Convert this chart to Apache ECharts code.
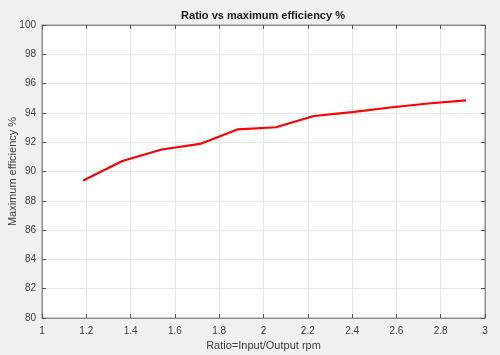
<!DOCTYPE html>
<html><head><meta charset="utf-8">
<script src="https://cdn.jsdelivr.net/npm/echarts@6/dist/echarts.min.js"></script>
<style>html,body{margin:0;padding:0;background:#f0f0f0;}#c{width:500px;height:355px;}</style>
</head><body><div id="c"></div>
<script>
var ratios = [1.186, 1.363, 1.540, 1.713, 1.885, 2.056, 2.228, 2.400, 2.571, 2.743, 2.914];
var efficiency = [89.38, 90.72, 91.50, 91.88, 92.88, 93.02, 93.79, 94.05, 94.37, 94.64, 94.86];
var title = 'Ratio vs maximum efficiency %';
var xName = 'Ratio=Input/Output rpm';
var yName = 'Maximum efficiency %';

var chart = echarts.init(document.getElementById('c'), null, {renderer: 'canvas'});
var font = 'Liberation Sans, Arial, sans-serif';
var axisCol = '#8f8f8f';
var labelCol = '#3c3c3c';
var gridCol = '#e6e6e6';
function baseAxis(extra) {
  return Object.assign({
    type: 'value',
    axisLine: {show: true, onZero: false, lineStyle: {color: axisCol, width: 1}},
    axisTick: {show: true, inside: true, length: 4, lineStyle: {color: '#555'}},
    splitLine: {show: false},
    axisLabel: {show: false}
  }, extra);
}
chart.setOption({
  backgroundColor: '#f0f0f0',
  animation: false,
  title: {text: title, left: 263, top: 10, padding: 0, textAlign: 'center',
    textStyle: {fontFamily: font, fontSize: 11, fontWeight: 'bold', color: '#1a1a1a'}},
  grid: {left: 42, right: 15, top: 25, bottom: 37, containLabel: false, outerBoundsMode: 'none',
    show: true, backgroundColor: '#ffffff', borderColor: axisCol, borderWidth: 1},
  xAxis: [
    baseAxis({position: 'bottom', min: 1, max: 3, interval: 0.2,
      name: xName, nameLocation: 'middle', nameGap: 22, nameMoveOverlap: false,
      nameTextStyle: {fontFamily: font, fontSize: 11, color: labelCol},
      splitLine: {show: true, lineStyle: {color: gridCol, width: 1}},
      axisLabel: {show: true, margin: 8, fontFamily: font, fontSize: 10, color: labelCol}}),
    baseAxis({position: 'top', min: 1, max: 3, interval: 0.2})
  ],
  yAxis: [
    baseAxis({position: 'left', min: 80, max: 100, interval: 2,
      name: yName, nameLocation: 'middle', nameGap: 24, nameMoveOverlap: false,
      nameTextStyle: {fontFamily: font, fontSize: 11, color: labelCol},
      splitLine: {show: true, lineStyle: {color: gridCol, width: 1}},
      axisLabel: {show: true, margin: 6, fontFamily: font, fontSize: 10, color: labelCol}}),
    baseAxis({position: 'right', min: 80, max: 100, interval: 2})
  ],
  series: [{
    type: 'line',
    data: ratios.map(function (r, i) { return [r, efficiency[i]]; }),
    showSymbol: false,
    lineStyle: {color: '#ff0000', width: 2.2},
    itemStyle: {color: '#ff0000'}
  }]
});
</script></body></html>
